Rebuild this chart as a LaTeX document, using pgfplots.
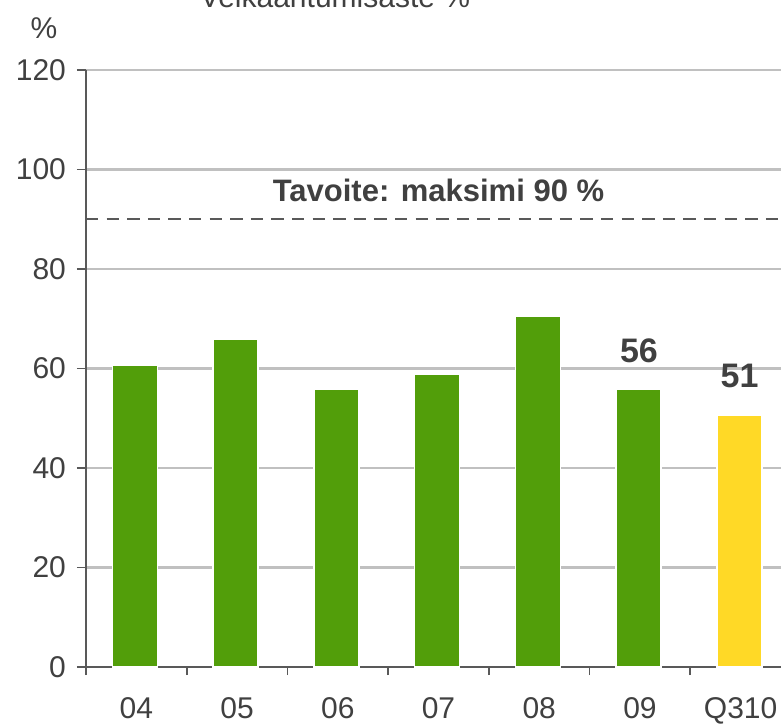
\documentclass[border=0pt]{standalone}
\usepackage{pgfplots}
\pgfplotsset{compat=1.18}
\usepackage{fontspec}
\setmainfont{Liberation Sans}
\definecolor{bargreen}{HTML}{529E0A}
\definecolor{baryellow}{HTML}{FFD926}
\definecolor{txt}{HTML}{404040}
\definecolor{axisgrey}{HTML}{595959}
\definecolor{gridgrey}{HTML}{C0C0C0}
\begin{document}
\begin{tikzpicture}
\begin{axis}[
  at={(0,0)}, anchor=south west,
  scale only axis, width=352.5pt, height=298.5pt,
  xmin=-0.5, xmax=6.5, ymin=0, ymax=120,
  axis x line*=bottom, axis y line*=left,
  axis line style={axisgrey, line width=0.8pt},
  ytick={0,20,...,120},
  ymajorgrids, grid style={gridgrey, line width=1.1pt},
  xtick={0,...,6}, xticklabels={04,05,06,07,08,09,Q310},
  minor xtick={-0.5,0.5,...,5.5},
  tick align=outside,
  major tick length=4.5pt, minor tick length=4pt,
  major x tick style={draw=none},
  minor x tick style={axisgrey, line width=0.8pt},
  major y tick style={axisgrey, line width=0.8pt},
  ticklabel style={font=\fontsize{15}{18}\selectfont, text=txt},
  xticklabel style={yshift=-7pt},
  yticklabel style={xshift=-2pt},
  /pgf/number format/assume math mode=true,
]
\addplot[ybar, bar width=22.5pt, bar shift=-0.7pt, fill=bargreen, draw=white, line width=0.8pt]
  coordinates {(0,60.7)(1,65.8)(2,55.8)(3,58.8)(4,70.5)(5,55.8)};
\addplot[ybar, bar width=22.5pt, bar shift=-0.7pt, fill=baryellow, draw=white, line width=0.8pt]
  coordinates {(6,50.6)};
\addplot[axisgrey, line width=1pt, dash pattern=on 6.2pt off 4.1pt]
  coordinates {(-0.5,90)(6.5,90)};
\node[text=txt, font=\fontsize{15.5}{18}\selectfont\bfseries] at (axis cs:3,95.7) {Tavoite: maksimi 90 \%};
\node[text=txt, font=\fontsize{17}{20}\selectfont\bfseries] at (axis cs:4.99,63.6) {56};
\node[text=txt, font=\fontsize{17}{20}\selectfont\bfseries] at (axis cs:5.99,58.5) {51};
\end{axis}
\node[text=txt, font=\fontsize{15}{18}\selectfont] at (-21pt,319.5pt) {\%};
\node[text=txt, font=\fontsize{15}{18}\selectfont, anchor=base] at (124.5pt,329.5pt) {Velkaantumisaste \%};
\pgfresetboundingbox
\path (-43pt,-29pt) rectangle (347.5pt,333.5pt);
\end{tikzpicture}
\end{document}
